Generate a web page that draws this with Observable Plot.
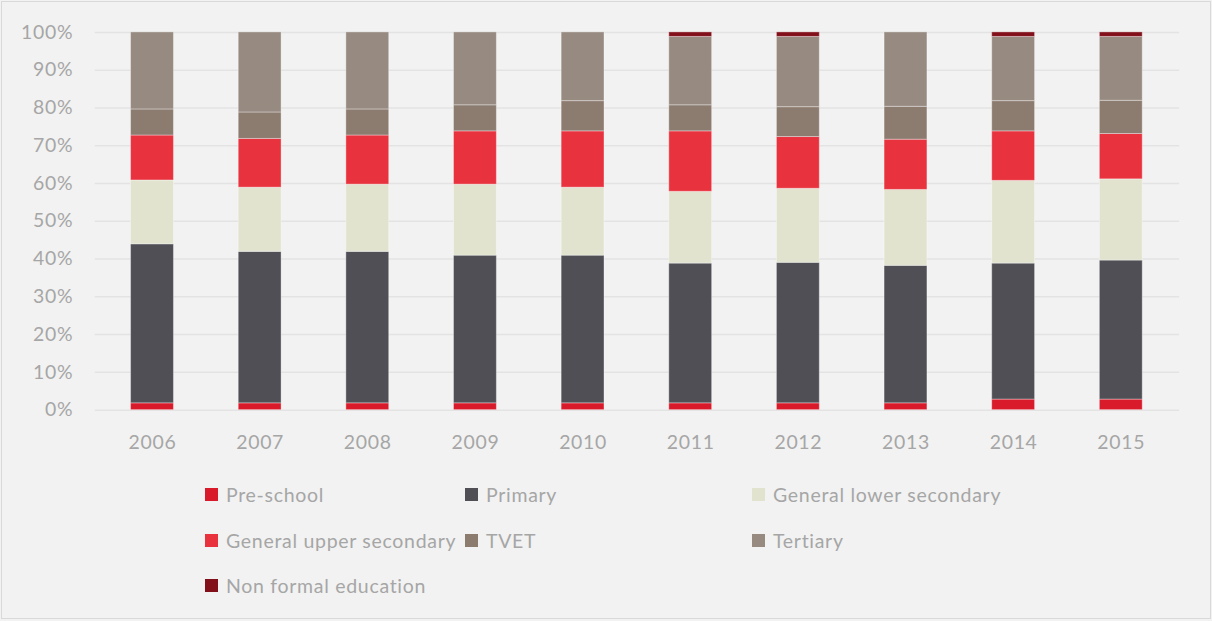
<!DOCTYPE html>
<html>
<head>
<meta charset="utf-8">
<script src="https://cdn.jsdelivr.net/npm/d3@7"></script>
<script src="https://cdn.jsdelivr.net/npm/@observablehq/plot@0.6"></script>
<style>
  html, body { margin: 0; padding: 0; background: #f2f2f2; }
  #frame { position: relative; width: 1208px; height: 616px; margin: 1px 0 0 1px; border: 1px solid #d9d9d9; background: #f2f2f2; overflow: hidden; font-family: Lato, "Open Sans", sans-serif; }
  #chart { position: absolute; left: -2px; top: -2px; }
  #chart text { letter-spacing: 0.7px; }
  #legend { position: absolute; left: 203px; top: 470px; display: grid; grid-template-columns: 260px 287px 300px; grid-auto-rows: 45.5px; font-size: 19.5px; letter-spacing: 0.7px; color: #a6a6a6; }
  .item { display: flex; align-items: center; white-space: nowrap; }
  .sw { width: 13px; height: 13px; margin-right: 8px; flex: none; }
</style>
</head>
<body>
<div id="frame">
  <div id="chart"></div>
  <div id="legend"></div>
</div>
<script>
const years = ["2006","2007","2008","2009","2010","2011","2012","2013","2014","2015"];
const levels = ["Pre-school","Primary","General lower secondary","General upper secondary","TVET","Tertiary","Non formal education"];
const colors = ["#d91a2a","#504f55","#e1e3cf","#e8333f","#8c7b6f","#978a81","#82101a"];

// share of enrolment (%) per level, by year
const preSchool      = [1.8, 1.8, 1.8, 1.8, 1.8, 1.8, 1.8, 1.8, 2.8, 2.8];
const primary        = [42.1, 40.1, 40.1, 39.1, 39.1, 37.0, 37.2, 36.4, 36.0, 36.8];
const lowerSecondary = [16.9, 17.0, 17.8, 18.8, 18.0, 19.0, 19.6, 20.1, 21.9, 21.5];
const upperSecondary = [11.9, 12.9, 13.0, 14.1, 14.9, 16.0, 13.7, 13.3, 13.1, 12.0];
const tvet           = [6.9, 7.0, 6.9, 6.9, 8.0, 6.9, 7.9, 8.7, 8.0, 8.8];
const tertiary       = [20.4, 21.2, 20.4, 19.3, 18.2, 18.1, 18.6, 19.7, 17.0, 16.9];
const nonFormal      = [0, 0, 0, 0, 0, 1.2, 1.2, 0, 1.2, 1.2];

const yTicks = [0,10,20,30,40,50,60,70,80,90,100];

const series = [preSchool, primary, lowerSecondary, upperSecondary, tvet, tertiary, nonFormal];
const data = [];
years.forEach((yr, i) => {
  levels.forEach((lv, j) => {
    data.push({year: yr, level: lv, value: series[j][i]});
  });
});

const chart = Plot.plot({
  width: 1214,
  height: 471,
  marginLeft: 95,
  marginRight: 31,
  marginTop: 32,
  marginBottom: 60,
  style: {background: "transparent", fontFamily: "Lato, 'Open Sans', sans-serif", fontSize: "19.5px", color: "#a6a6a6"},
  x: {domain: years, paddingInner: 0.6, paddingOuter: 0.3, label: null, tickSize: 0, tickPadding: 25},
  y: {domain: [0, 100], ticks: yTicks, tickFormat: d => d + "%", label: null, tickSize: 0, tickPadding: 22},
  color: {domain: levels, range: colors},
  marks: [
    Plot.ruleY(yTicks, {stroke: "#e3e3e3", strokeWidth: 1.5}),
    Plot.barY(data, Plot.stackY({order: levels}, {x: "year", y: "value", fill: "level", stroke: "#ffffff", strokeOpacity: 0.35, strokeWidth: 1})),
    Plot.axisX({tickSize: 0, tickPadding: 25, fill: "#a6a6a6", fontSize: "19.5px"}),
    Plot.axisY({ticks: yTicks, tickFormat: d => d + "%", tickSize: 0, tickPadding: 22, fill: "#a6a6a6", fontSize: "19.5px"})
  ]
});
document.getElementById("chart").appendChild(chart);

const legend = document.getElementById("legend");
levels.forEach((lv, j) => {
  const item = document.createElement("div");
  item.className = "item";
  const sw = document.createElement("span");
  sw.className = "sw";
  sw.style.background = colors[j];
  const t = document.createElement("span");
  t.textContent = lv;
  item.appendChild(sw);
  item.appendChild(t);
  legend.appendChild(item);
});
</script>
</body>
</html>
